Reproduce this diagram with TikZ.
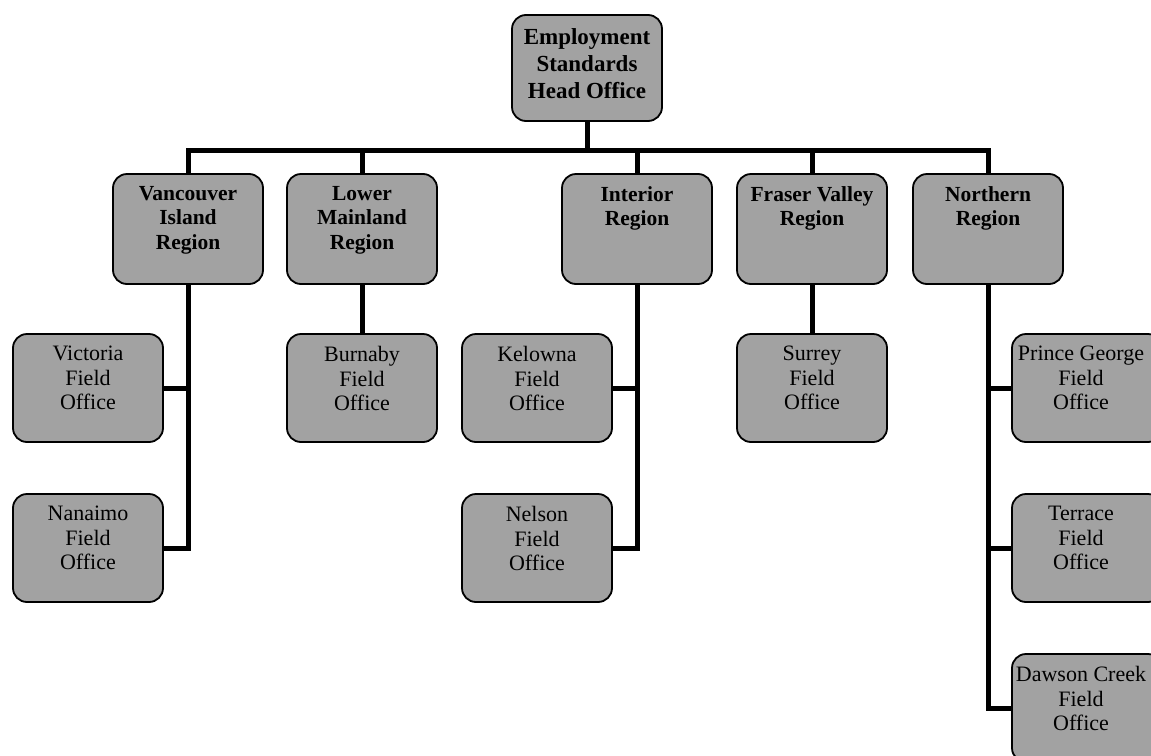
\documentclass[tikz,border=0pt]{standalone}
\usepackage{fontspec}
\setmainfont{Liberation Serif}
\definecolor{boxgray}{HTML}{A2A2A2}
\begin{document}
\begin{tikzpicture}[x=1pt,y=-1pt,
  box/.style={draw=black, line width=1.8pt, rounded corners=14pt, fill=boxgray, minimum width=150pt, inner sep=0pt},
  regbox/.style={box, minimum height=110pt},
  fieldbox/.style={box, minimum height=108pt},
  txt/.style={align=center, inner sep=0pt, anchor=north, font=\fontsize{22}{24.5}\selectfont},
  btxt/.style={txt, font=\bfseries\fontsize{21.5}{24.5}\selectfont},
  conn/.style={line width=5pt, line join=miter}]
\useasboundingbox (0,0) rectangle (1151,755);
\clip (0,0) rectangle (1151,755);
% head
\node[box, minimum height=106pt] (head) at (587,68) {};
\node[txt, font=\bfseries\fontsize{23}{27}\selectfont] (headt) at ([yshift=-14pt]head.north) {Employment\\Standards\\Head Office};
% regions
\node[regbox] (van) at (188,229) {};
\node[regbox] (lm) at (362,229) {};
\node[regbox] (int) at (637,229) {};
\node[regbox] (fv) at (812,229) {};
\node[regbox] (nor) at (988,229) {};
\node[btxt] (vant) at ([yshift=-13pt]van.north) {Vancouver\\Island\\Region};
\node[btxt] (lmt) at ([yshift=-13pt]lm.north) {Lower\\Mainland\\Region};
\node[btxt] (intt) at ([yshift=-13pt]int.north) {Interior\\Region};
\node[btxt] (fvt) at ([yshift=-13pt]fv.north) {Fraser Valley\\Region};
\node[btxt] (nort) at ([yshift=-13pt]nor.north) {Northern\\Region};
% field offices
\node[fieldbox] (vic) at (88,388) {};
\node[fieldbox] (nan) at (88,548) {};
\node[fieldbox] (bur) at (362,388) {};
\node[fieldbox] (kel) at (537,388) {};
\node[fieldbox] (nel) at (537,548) {};
\node[fieldbox] (sur) at (812,388) {};
\node[fieldbox] (pg) at (1087,388) {};
\node[fieldbox] (ter) at (1087,548) {};
\node[fieldbox] (daw) at (1087,708) {};
\node[txt] (vict) at ([yshift=-13pt]vic.north) {Victoria\\Field\\Office};
\node[txt] (nant) at ([yshift=-13pt]nan.north) {Nanaimo\\Field\\Office};
\node[txt] (burt) at ([yshift=-13pt]bur.north) {Burnaby\\Field\\Office};
\node[txt] (kelt) at ([yshift=-13pt]kel.north) {Kelowna\\Field\\Office};
\node[txt] (nelt) at ([yshift=-13pt]nel.north) {Nelson\\Field\\Office};
\node[txt] (surt) at ([yshift=-13pt]sur.north) {Surrey\\Field\\Office};
\node[txt] (pgt) at ([xshift=-6pt,yshift=-13pt]pg.north) {Prince George\\Field\\Office};
\node[txt] (tert) at ([xshift=-6pt,yshift=-13pt]ter.north) {Terrace\\Field\\Office};
\node[txt] (dawt) at ([xshift=-6pt,yshift=-13pt]daw.north) {Dawson Creek\\Field\\Office};
% connectors
\coordinate (bar) at (587,150);
\draw[conn] (head.south) -- (bar);
\draw[conn] (van.north) -- (van.north |- bar) -- (nor.north |- bar) -- (nor.north);
\draw[conn] (lm.north |- bar) -- (lm.north);
\draw[conn] (int.north |- bar) -- (int.north);
\draw[conn] (fv.north |- bar) -- (fv.north);
\draw[conn] (van.south) -- (van.south |- nan.east) -- (nan.east);
\draw[conn] (vic.east) -- (vic.east -| van.south);
\draw[conn] (lm.south) -- (bur.north);
\draw[conn] (int.south) -- (int.south |- nel.east) -- (nel.east);
\draw[conn] (kel.east) -- (kel.east -| int.south);
\draw[conn] (fv.south) -- (sur.north);
\draw[conn] (nor.south) -- (nor.south |- daw.west) -- (daw.west);
\draw[conn] (pg.west) -- (pg.west -| nor.south);
\draw[conn] (ter.west) -- (ter.west -| nor.south);
\end{tikzpicture}
\end{document}
